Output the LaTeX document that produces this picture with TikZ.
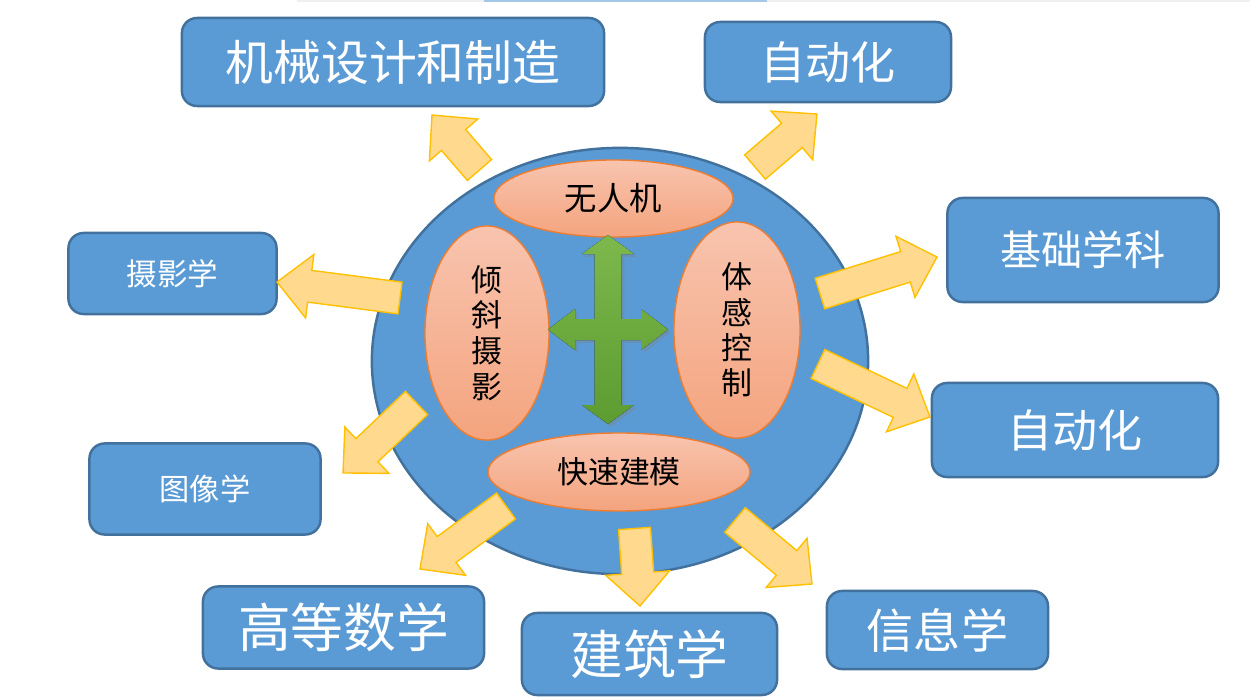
\documentclass[tikz,border=0pt]{standalone}
\usepackage{fontspec}
\newfontfamily\cjk{Noto Sans CJK SC}
\usetikzlibrary{shapes.geometric,shadows}

\definecolor{boxblue}{HTML}{5B9BD5}
\definecolor{boxline}{HTML}{41719C}
\definecolor{petaltop}{HTML}{F8C4AF}
\definecolor{petalbot}{HTML}{F4A47E}
\definecolor{petalline}{HTML}{ED7D31}
\definecolor{flowfill}{HTML}{FFDA8E}
\definecolor{flowline}{HTML}{FFC000}
\definecolor{crosstop}{HTML}{7DB84C}
\definecolor{crossbot}{HTML}{5C9C31}

% block arrow from tail centre (#1,#2) to tip (#3,#4)
\newcommand{\flowarrow}[4]{%
  \pgfmathsetmacro{\arrang}{atan2(#2-#4,#3-#1)}%
  \pgfmathsetmacro{\arrlen}{veclen(#3-#1,#4-#2)}%
  \pgfmathsetmacro{\arrneck}{\arrlen-33}%
  \filldraw[flow, shift={(#1,#2)}, rotate=\arrang]
    (0,16) -- (\arrneck,16) -- (\arrneck,32) -- (\arrlen,0)
    -- (\arrneck,-32) -- (\arrneck,-16) -- (0,-16) -- cycle;}

\begin{document}
\begin{tikzpicture}[x=0.01cm, y=-0.01cm,
    box/.style={draw=boxline, line width=0.7pt, fill=boxblue, rounded corners=4.3pt, text=white, inner sep=0pt},
    petal/.style={ellipse, draw=petalline, line width=0.4pt, top color=petaltop, bottom color=petalbot, inner sep=0pt, align=center},
    flow/.style={draw=flowline, fill=flowfill, line width=0.4pt},
    cross/.style={top color=crosstop, bottom color=crossbot, drop shadow={opacity=0.35, shadow xshift=0.8pt, shadow yshift=-0.8pt}}
]
\useasboundingbox (0,0) rectangle (1250,700);
\fill[black!6] (297,0) rectangle (1250,2);
\fill[boxblue!55] (484,0) rectangle (767,2);

% centre
\node[ellipse, draw=boxline, line width=0.7pt, fill=boxblue, minimum width=4.96cm, minimum height=4.26cm] (core) at (620,361) {};
\node[petal, minimum width=2.39cm, minimum height=0.77cm, font=\cjk\fontsize{9.2pt}{11pt}\selectfont] (uav) at (613.5,198.5) {无人机};
\node[petal, minimum width=1.24cm, minimum height=2.14cm, font=\cjk\fontsize{8.8pt}{10.2pt}\selectfont] (tilt) at (487,333) {倾\\斜\\摄\\影};
\node[petal, minimum width=1.26cm, minimum height=2.16cm, font=\cjk\fontsize{8.8pt}{10pt}\selectfont] (motion) at (737,330) {体\\感\\控\\制};
\node[petal, minimum width=2.62cm, minimum height=0.78cm, font=\cjk\fontsize{8.8pt}{11pt}\selectfont] (model) at (619,472) {快速建模};
\coordinate (hub) at (608,329.5);
\fill[cross, shift={(hub)}]
  (0,-94.5) -- (26,-75.5) -- (13.5,-75.5) -- (13.5,-10.5) -- (33,-10.5) -- (33,-20.5) -- (60,0)
  -- (33,20.5) -- (33,10.5) -- (13.5,10.5) -- (13.5,75.5) -- (26,75.5) -- (0,94.5)
  -- (-26,75.5) -- (-13.5,75.5) -- (-13.5,10.5) -- (-33,10.5) -- (-33,20.5) -- (-60,0)
  -- (-33,-20.5) -- (-33,-10.5) -- (-13.5,-10.5) -- (-13.5,-75.5) -- (-26,-75.5) -- cycle;

% fields
\node[box, minimum width=4.22cm, minimum height=0.88cm, font=\cjk\fontsize{13.6pt}{16pt}\selectfont] (mech) at (393,62) {机械设计和制造};
\node[box, minimum width=2.46cm, minimum height=0.80cm, font=\cjk\fontsize{12.8pt}{15pt}\selectfont] (auto1) at (828,62) {自动化};
\node[box, minimum width=2.71cm, minimum height=1.04cm, font=\cjk\fontsize{11.7pt}{14pt}\selectfont] (basic) at (1083,250) {基础学科};
\node[box, minimum width=2.86cm, minimum height=0.94cm, font=\cjk\fontsize{12.8pt}{15pt}\selectfont] (auto2) at (1075,430) {自动化};
\node[box, minimum width=2.08cm, minimum height=0.81cm, font=\cjk\fontsize{8.7pt}{10pt}\selectfont] (photo) at (172.5,273.5) {摄影学};
\node[box, minimum width=2.31cm, minimum height=0.91cm, font=\cjk\fontsize{8.6pt}{10pt}\selectfont] (image) at (205,489) {图像学};
\node[box, minimum width=2.81cm, minimum height=0.82cm, font=\cjk\fontsize{15pt}{18pt}\selectfont] (math) at (343.5,627.5) {高等数学};
\node[box, minimum width=2.55cm, minimum height=0.82cm, font=\cjk\fontsize{15pt}{18pt}\selectfont] (arch) at (649.5,654) {建筑学};
\node[box, minimum width=2.21cm, minimum height=0.78cm, font=\cjk\fontsize{13.4pt}{16pt}\selectfont] (info) at (937.5,630) {信息学};

% arrows out of the centre
\flowarrow{479.5}{170}{432}{115}
\flowarrow{755}{167}{817}{114}
\flowarrow{820}{293.5}{937}{257}
\flowarrow{818}{364}{930}{417}
\flowarrow{735}{520}{812}{584}
\flowarrow{634.5}{528.5}{640}{606}
\flowarrow{506}{506}{420}{569}
\flowarrow{416.5}{403}{343}{473}
\flowarrow{400}{298}{277}{282}
\end{tikzpicture}
\end{document}
